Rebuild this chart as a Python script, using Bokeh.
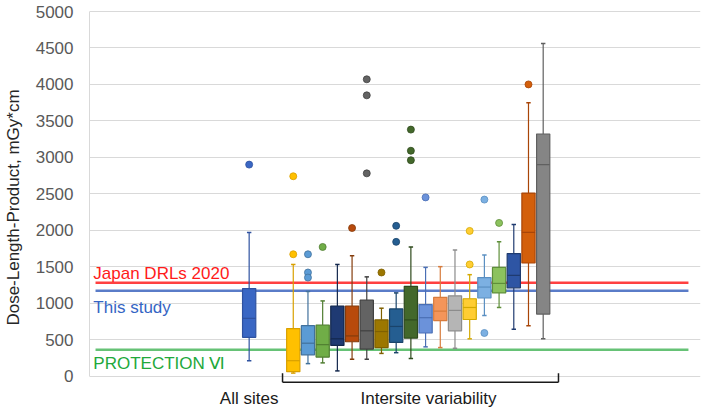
from bokeh.plotting import figure
from bokeh.models import Range1d, FixedTicker, ColumnDataSource
from bokeh.core.properties import value
from bokeh.embed import file_html
from bokeh.resources import INLINE

# ---------------- data ----------------
labels = ["All sites"] + [f"Site {i}" for i in range(1, 19)]
positions = [0, 3, 4, 5, 6, 7, 8, 9, 10, 11, 12, 13, 14, 15, 16, 17, 18, 19, 20]
lower  = [210, 40, 170, 180, 70, 230, 230, 310, 320, 240, 400, 390, 380, 510, 830, 940, 640, 690, 510]
q1     = [530, 60, 290, 260, 420, 470, 370, 390, 460, 520, 590, 760, 620, 775, 1070, 1140, 1210, 1550, 850]
median = [790, 210, 450, 430, 510, 550, 620, 610, 680, 770, 800, 890, 900, 940, 1220, 1270, 1380, 1970, 2900]
q3     = [1200, 650, 690, 700, 960, 960, 1040, 770, 920, 1230, 980, 1080, 1100, 1060, 1350, 1490, 1680, 2510, 3320]
upper  = [1970, 1530, 1160, 1030, 1530, 1650, 1360, 930, 1140, 1770, 1490, 1500, 1730, 1390, 1660, 1840, 2080, 3750, 4560]
outlier_box = [0, 1, 1, 2, 2, 2, 3, 5, 6, 6, 6, 7, 8, 8, 9, 9, 9, 10, 13, 13, 14, 14, 15, 17]
outlier_val = [2900, 2740, 1670, 1670, 1420, 1350, 1770, 2030, 4070, 3850, 2780, 1420,
               2060, 1840, 3380, 3090, 2960, 2450, 1990, 1530, 2420, 590, 2100, 4000]

fills = ["#3a67c4", "#ffc000", "#5b9bd5", "#70ad47", "#1f3a73", "#b84a0c", "#636363",
         "#9c7700", "#255e91", "#43682b", "#6b92da", "#f4955a", "#b5b5b5", "#ffcd33",
         "#7cb0e2", "#8cc25e", "#2e55a4", "#d35f0b", "#858585"]
edges = ["#2f52a0", "#d9a000", "#41719c", "#507e32", "#13284d", "#843c0c", "#404040",
         "#7f6000", "#1a446b", "#2e4a1d", "#4a6fb5", "#d77b3c", "#8c8c8c", "#d4a900",
         "#5a8fc2", "#5f8f3a", "#1f3b70", "#a84508", "#606060"]

ref_names = ["Japan DRLs 2020", "This study", "PROTECTION \u2165"]
ref_values = [1280, 1170, 360]
ref_line_colors = ["#ff4040", "#5a7cc8", "#66c276"]
ref_text_colors = ["#ff1a1a", "#3565c4", "#22a83a"]

yticks = list(range(0, 5001, 500))

# ---------------- figure ----------------
p = figure(width=708, height=414, x_range=Range1d(-10.86, 30.7), y_range=Range1d(-528, 5151),
           output_backend="svg", toolbar_location=None,
           min_border_left=89, min_border_right=8, min_border_top=0, min_border_bottom=0)
p.outline_line_color = None
p.background_fill_color = "white"
p.xaxis.visible = False
p.xgrid.visible = False
p.yaxis.ticker = FixedTicker(ticks=yticks)
p.yaxis.bounds = (0, 5000)
p.yaxis.axis_line_color = "#d9d9d9"
p.yaxis.major_tick_line_color = None
p.yaxis.minor_tick_line_color = None
p.yaxis.major_label_standoff = 10
p.yaxis.major_label_text_font = "Liberation Sans"
p.yaxis.major_label_text_font_size = "17px"
p.yaxis.major_label_text_color = "#595959"
p.yaxis.axis_label = "Dose-Length-Product, mGy*cm"
p.yaxis.axis_label_text_font = "Liberation Sans"
p.yaxis.axis_label_text_font_size = "17px"
p.yaxis.axis_label_text_font_style = "normal"
p.yaxis.axis_label_text_color = "#262626"
p.yaxis.axis_label_standoff = 10
p.ygrid.grid_line_color = "#d9d9d9"
p.ygrid.grid_line_width = 1

# reference lines (drawn under boxes)
ref_x0, ref_x1 = -10.45, 29.88
for v, c in zip(ref_values, ref_line_colors):
    p.segment(x0=ref_x0, y0=v, x1=ref_x1, y1=v, line_color=c, line_width=2.5)

hw = 0.45
cap = 0.15
src = ColumnDataSource(dict(
    x=positions, lower=lower, q1=q1, med=median, q3=q3, upper=upper,
    fill=fills, edge=edges,
    xl=[x - hw for x in positions], xr=[x + hw for x in positions],
    cl=[x - cap for x in positions], cr=[x + cap for x in positions],
))
# whiskers
p.segment(x0="x", y0="lower", x1="x", y1="q1", line_color="edge", line_width=1.2, source=src)
p.segment(x0="x", y0="q3", x1="x", y1="upper", line_color="edge", line_width=1.2, source=src)
p.segment(x0="cl", y0="lower", x1="cr", y1="lower", line_color="edge", line_width=1.5, source=src)
p.segment(x0="cl", y0="upper", x1="cr", y1="upper", line_color="edge", line_width=1.5, source=src)
# boxes
p.vbar(x="x", width=2 * hw, bottom="q1", top="q3", fill_color="fill", line_color="edge",
       line_width=1.2, source=src)
p.segment(x0="xl", y0="med", x1="xr", y1="med", line_color="edge", line_width=1.2, source=src)

# outliers
osrc = ColumnDataSource(dict(
    x=[positions[i] for i in outlier_box], y=outlier_val,
    fill=[fills[i] for i in outlier_box], edge=[edges[i] for i in outlier_box],
))
p.scatter(x="x", y="y", size=7, fill_color="fill", line_color="edge", line_width=0.8, source=osrc)

# reference labels
ref_label_y = [1407, 940, 172]
p.text(x=[-10.6] * 3, y=ref_label_y, text=ref_names, text_color=ref_text_colors,
       text_font=value("Liberation Sans"), text_font_size="17px",
       text_align="left", text_baseline="middle")

# bracket for intersite boxes
bx0, bx1 = 2.27, 21.04
p.segment(x0=[bx0, bx0, bx1], y0=[-85, -85, -85], x1=[bx1, bx0, bx1], y1=[-85, 38, 38],
          line_color="#1a1a1a", line_width=1.5)

# group labels
p.text(x=[0, 12.2], y=[-309, -309], text=["All sites", "Intersite variability"],
       text_color="#1a1a1a", text_font=value("Liberation Sans"), text_font_size="17px",
       text_align="center", text_baseline="middle")

open("out.html", "w").write(file_html(p, INLINE))
